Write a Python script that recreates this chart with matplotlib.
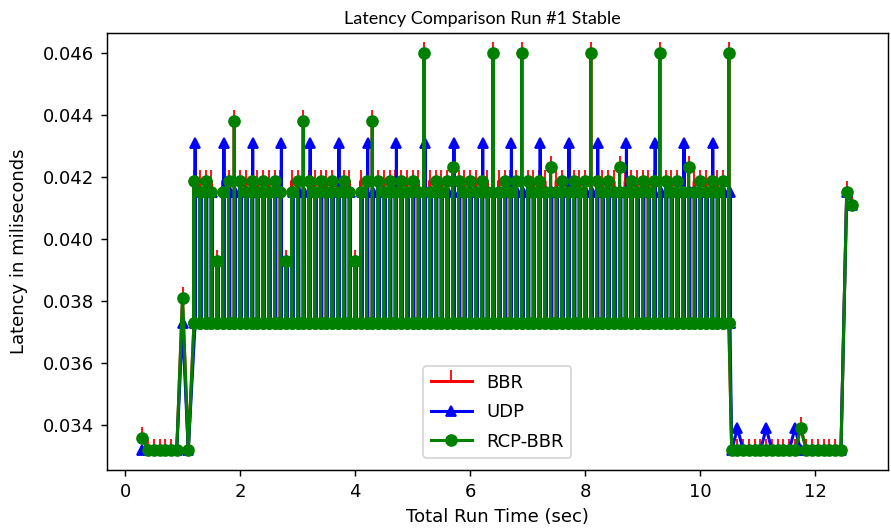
import numpy as np
import matplotlib
matplotlib.use("Agg")
import matplotlib.pyplot as plt

# time stamps of each run phase: (first stamp, spacing, number of stamps)
start_phase = (0.30, 0.10, 9)
busy_phase = (1.20, 0.10, 94)   # floor, peak, floor readings per stamp
tail_phase = (10.55, 0.10, 20)
end_phase = (12.55, 0.10, 2)
udp_busy_lag = 0.02              # UDP stamps sit just right of the others

# latency levels
levels = {
    "a": 0.0332, "b": 0.0336, "n": 0.0339, "c": 0.0373, "d": 0.0381,
    "e": 0.0393, "f": 0.0411, "g": 0.0415, "h": 0.04185, "m": 0.0423,
    "u": 0.0431, "k": 0.0438, "p": 0.0460,
}

# one letter per reading
busy_floor = (
    "ccccc" "ccccc" "ccccc" "ccccc" "ccccc" "ccccc" "ccccc" "ccccc" "ccccc" "ccccc"
    "ccccc" "ccccc" "ccccc" "ccccc" "ccccc" "ccccc" "ccccc" "ccccc" "cccc"
)

bbr_start = "baaaaaada"
bbr_busy = (
    "hhhhe" "hhkhh" "hhhhh" "hehhk" "hhhhh" "hhheh" "hkhhh" "hhhhh" "phhhh" "mhhhh"
    "hhphh" "hhphh" "hhmhh" "hhhhp" "hhhhm" "hhhhh" "hphhh" "hmhhh" "hhhp"
)
bbr_tail = "aaaaaaaaaaaanaaaaaaa"
bbr_end = "gf"

udp_start = "aaaaaaaca"
udp_busy = (
    "uggge" "ugggg" "ugggg" "ueggg" "ugggg" "uggeg" "ugggg" "ugggg" "ugggg" "ugggg"
    "ugggg" "ugggg" "ugggg" "ugggg" "ugggg" "ugggg" "ugggg" "ugggg" "uggg"
)
udp_tail = "anaaaanaaaanaaaaaaaa"
udp_end = "gf"

rcp_start = "baaaaaada"
rcp_busy = (
    "hghge" "ghkhg" "hghgh" "geghk" "hghgh" "ghgeg" "hkhgh" "ghghg" "pghgh" "mhghg"
    "hgpgh" "ghphg" "hgmgh" "ghghp" "hghgm" "ghghg" "hphgh" "gmghg" "hghp"
)
rcp_tail = "aaaaaaaaaaaanaaaaaaa"
rcp_end = "gf"


def stamps(phase, shift=0.0):
    start, step, count = phase
    return [round(start + shift + step * k, 3) for k in range(count)]


def series(start, busy, tail, end, shift=0.0):
    t = stamps(start_phase)
    y = [levels[c] for c in start]
    for ts, hi, lo in zip(stamps(busy_phase, shift), busy, busy_floor):
        t += [ts, ts, ts]
        y += [levels[lo], levels[hi], levels[lo]]
    t += stamps(tail_phase) + stamps(end_phase)
    y += [levels[c] for c in tail + end]
    return np.array(t), np.array(y)


def draw():
    fig = plt.figure(figsize=(891 / 130, 531 / 130), dpi=130)
    ax = fig.add_axes([0.1198, 0.1149, 0.8768, 0.8235])

    t, y = series(bbr_start, bbr_busy, bbr_tail, bbr_end)
    ax.plot(t, y, color="r", marker=2, lw=1.7, label="BBR")
    t, y = series(udp_start, udp_busy, udp_tail, udp_end, udp_busy_lag)
    ax.plot(t, y, color="b", marker="^", lw=1.7, label="UDP")
    t, y = series(rcp_start, rcp_busy, rcp_tail, rcp_end)
    ax.plot(t, y, color="g", marker="o", lw=1.7, label="RCP-BBR")

    ax.set_xlabel("Total Run Time (sec)")
    ax.set_ylabel("Latency in miliseconds", labelpad=8)
    ax.set_xticks([0, 2, 4, 6, 8, 10, 12])
    ax.set_yticks([0.034, 0.036, 0.038, 0.040, 0.042, 0.044, 0.046])
    ax.legend(loc="lower center", bbox_to_anchor=(0.5, 0.007),
              handlelength=2.3, labelspacing=0.64)

    fig.text(482 / 891, 1 - 24 / 531, "Latency Comparison Run #1 Stable",
             family="Lato", fontsize=10, ha="center", va="baseline")

    fig.savefig("out.png", dpi=130)


if __name__ == "__main__":
    draw()
